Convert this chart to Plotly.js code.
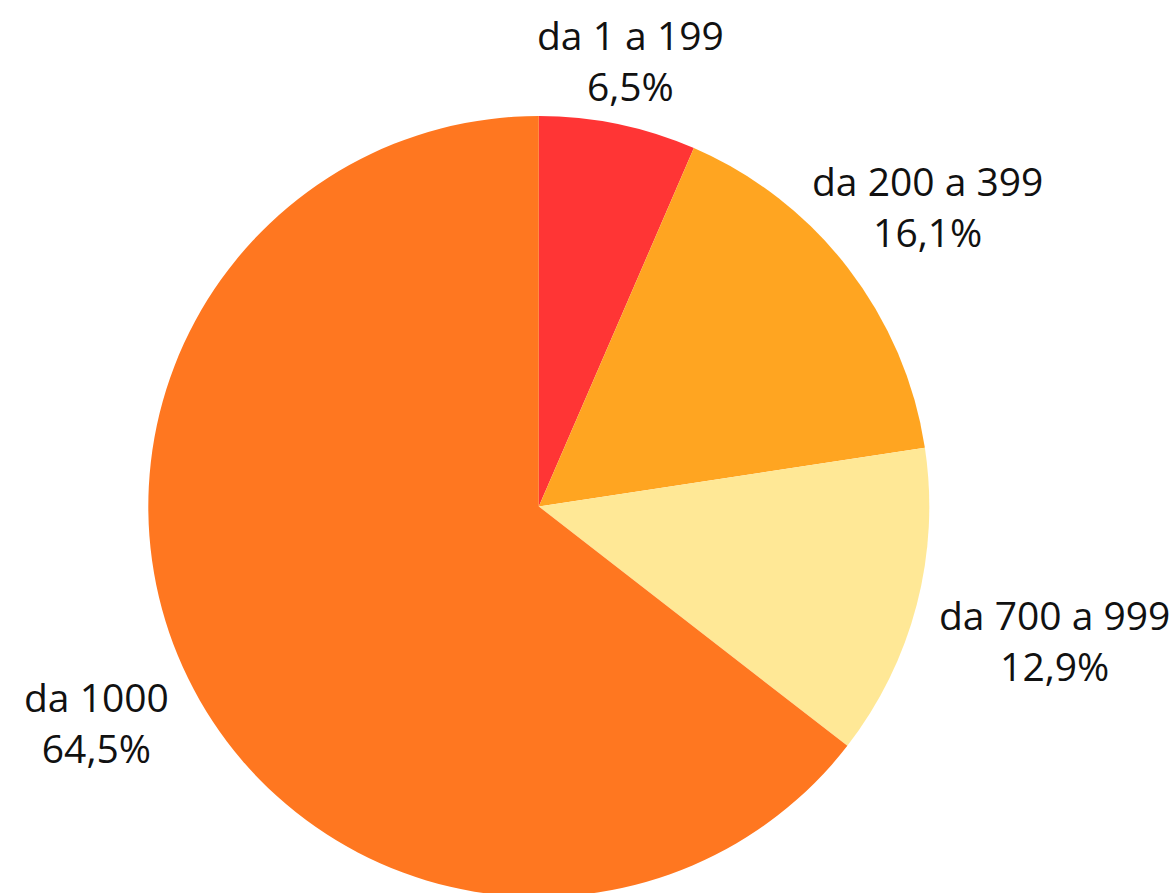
<!DOCTYPE html>
<html>
<head>
<meta charset="utf-8">
<script src="https://cdn.plot.ly/plotly-3.0.1.min.js"></script>
<style>
html, body { margin: 0; padding: 0; overflow: hidden; background: #fff; }
#chart { width: 1175px; height: 900px; }
</style>
</head>
<body>
<div id="chart"></div>
<script>
// Data
const categories = ['da 1 a 199', 'da 200 a 399', 'da 700 a 999', 'da 1000'];
const shares = [6.5, 16.1, 12.9, 64.5];
const sliceColors = ['#FF3535', '#FFA521', '#FFE896', '#FF7720'];

// Layout constants
const W = 1175, H = 900;
const pieLeft = 148.3, pieRight = 929.3, pieTop = 116;
const R = (pieRight - pieLeft) / 2;
const cx = pieLeft + R, cy = pieTop + R;
const fontSize = 39;
const fontFamily = '"Open Sans", "Noto Sans", sans-serif';
const halfLineGap = 22.5;     // half the distance between the two text lines
const labelClearance = 21;    // gap between circle edge and nearest text
const capH = 0.714 * fontSize;

function fmtPct(v) { return v.toFixed(1).replace('.', ',') + '%'; }

const ctx = document.createElement('canvas').getContext('2d');
ctx.font = fontSize + 'px "Open Sans"';

function distToBox(x1, x2, y1, y2) {
  const dx = Math.max(x1 - cx, 0, cx - x2);
  const dy = Math.max(y1 - cy, 0, cy - y2);
  return Math.hypot(dx, dy);
}

const total = shares.reduce((a, b) => a + b, 0);
let cum = 0;
const annotations = categories.map((cat, i) => {
  const frac = shares[i] / total;
  const mid = (cum + frac / 2) * 2 * Math.PI;
  cum += frac;
  const lines = [cat, fmtPct(shares[i] / total * 100)];
  const widths = lines.map(t => ctx.measureText(t).width);
  const ux = Math.sin(mid), uy = -Math.cos(mid);
  const clearance = (d) => {
    const px = cx + ux * d, py = cy + uy * d;
    let m = Infinity;
    lines.forEach((t, k) => {
      const ly = py + (k === 0 ? -halfLineGap : halfLineGap);
      m = Math.min(m, distToBox(px - widths[k] / 2, px + widths[k] / 2, ly - capH / 2, ly + capH / 2));
    });
    return m;
  };
  let lo = R * 0.8, hi = R + 500;
  for (let it = 0; it < 60; it++) {
    const m = (lo + hi) / 2;
    if (clearance(m) < R + labelClearance) lo = m; else hi = m;
  }
  const d = (lo + hi) / 2;
  const px = cx + ux * d, py = cy + uy * d - 1;
  return {
    text: lines.join('<br>'),
    x: px / W, y: 1 - py / H,
    xref: 'paper', yref: 'paper',
    xanchor: 'center', yanchor: 'middle',
    align: 'center',
    showarrow: false,
    font: { family: fontFamily, size: fontSize, color: '#111111' }
  };
});

const trace = {
  type: 'pie',
  labels: categories,
  values: shares,
  sort: false,
  direction: 'clockwise',
  rotation: 0,
  marker: { colors: sliceColors, line: { width: 0 } },
  textinfo: 'none',
  hoverinfo: 'skip',
  showlegend: false,
  domain: { x: [pieLeft / W, pieRight / W], y: [1 - (pieTop + 2 * R) / H, 1 - pieTop / H] }
};

const layout = {
  width: W, height: H,
  margin: { l: 0, r: 0, t: 0, b: 0 },
  paper_bgcolor: '#ffffff',
  showlegend: false,
  annotations: annotations
};

Plotly.newPlot('chart', [trace], layout, { displayModeBar: false, staticPlot: true });
</script>
</body>
</html>
